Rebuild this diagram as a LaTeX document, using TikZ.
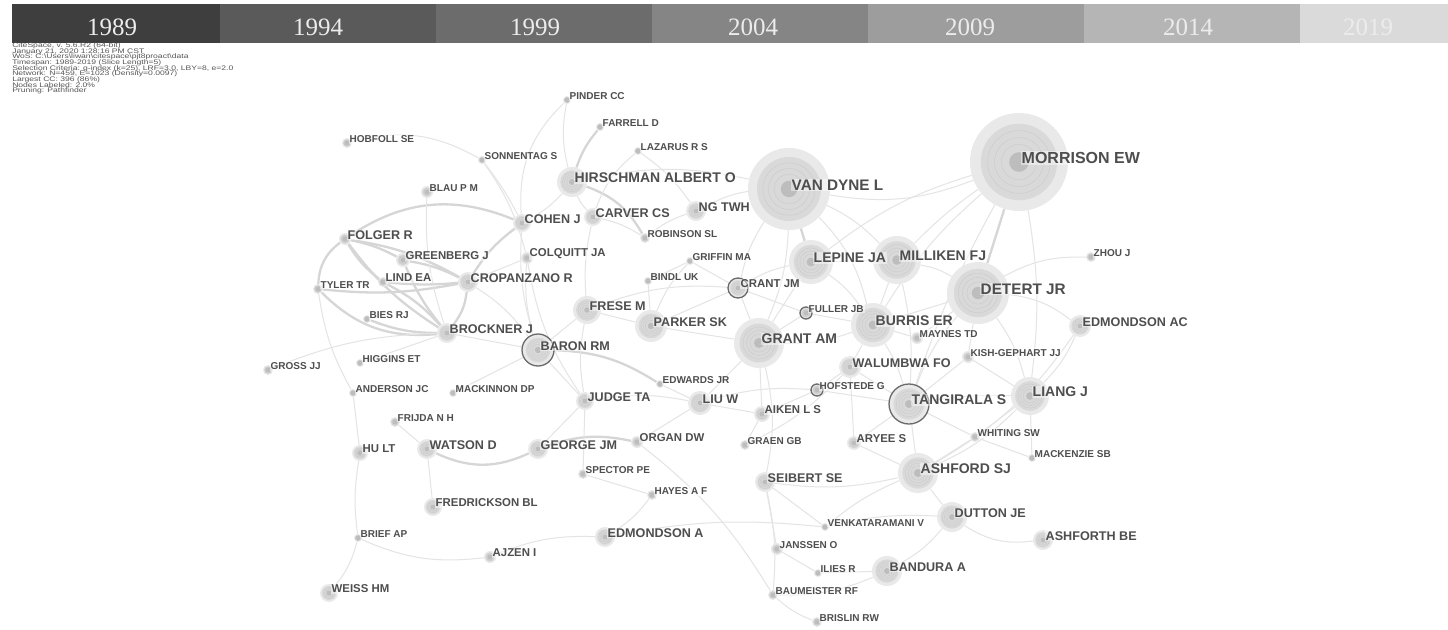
\documentclass[tikz,border=0pt]{standalone}
\usepackage{fontspec}
\newfontfamily\labfont{Liberation Sans}
\newfontfamily\yearfont{Liberation Serif}
\pgfdeclarelayer{background}
\pgfdeclarelayer{foreground}
\pgfsetlayers{background,main,foreground}

\definecolor{labc}{HTML}{4E4E4E}
\definecolor{infoc}{HTML}{555555}
\definecolor{ringc}{HTML}{6A6A6A}
\definecolor{yearc}{HTML}{ECECEC}
\definecolor{barA}{HTML}{3E3E3E}
\definecolor{barB}{HTML}{5A5A5A}
\definecolor{barC}{HTML}{6C6C6C}
\definecolor{barD}{HTML}{858585}
\definecolor{barE}{HTML}{9D9D9D}
\definecolor{barF}{HTML}{B5B5B5}
\definecolor{barG}{HTML}{DADADA}

\tikzset{
  authdisc/.style={circle, inner sep=0pt, fill=gray!17},
  authlabel/.style={anchor=west, inner sep=1pt, text=labc, fill=white,
    fill opacity=0.45, text opacity=1},
  szXL/.style={font=\labfont\bfseries\fontsize{16}{18}\selectfont},
  szXLb/.style={font=\labfont\bfseries\fontsize{15.3}{17}\selectfont},
  szL/.style={font=\labfont\bfseries\fontsize{14}{16}\selectfont},
  szM/.style={font=\labfont\bfseries\fontsize{12.6}{14}\selectfont},
  szSM/.style={font=\labfont\bfseries\fontsize{11.4}{13}\selectfont},
  szS/.style={font=\labfont\bfseries\fontsize{10}{12}\selectfont},
  lnk/.style={draw=gray!21, line width=1pt},
  lnkb/.style={draw=gray!32, line width=2.3pt},
  yearlbl/.style={text=yearc, font=\yearfont\fontsize{25}{25}\selectfont, inner sep=0pt},
  burstring/.style={draw=ringc, line width=1.3pt},
  infoline/.style={anchor=west, inner sep=0pt, text=infoc, xscale=1.3,
    font=\labfont\fontsize{6.6}{7}\selectfont},
}

% #1 name, #2 x, #3 y, #4 radius, #5 label size style, #6 label text
\newcommand\authornode[6]{%
  \node[authdisc, minimum size=2*#4] (#1) at (#2,#3) {};
  \fill[gray!30] (#1.center) circle[radius=0.78*#4];
  \foreach \k in {0.64,0.5,0.36}
    \draw[gray!42, line width=0.35pt] (#1.center) circle[radius=\k*#4];
  \fill[gray!52] (#1.center) circle[radius={max(0.2*#4,2.4)}];
  \begin{pgfonlayer}{foreground}
    \node[authlabel, #5] (#1-l) at (#2+1.5,#3-4) {#6};
  \end{pgfonlayer}
}
\newcommand\burstmark[2]{\draw[burstring] (#1.center) circle[radius=#2];}

\begin{document}
\begin{tikzpicture}[x=1pt, y=-1pt]
\useasboundingbox (0,0) rectangle (1448,629);
\begin{pgfonlayer}{background}
\fill[white] (0,0) rectangle (1448,629);
\end{pgfonlayer}

% time-slice colour bar
\fill[barA] (12,4) rectangle (220,43);
\fill[barB] (220,4) rectangle (436,43);
\fill[barC] (436,4) rectangle (652,43);
\fill[barD] (652,4) rectangle (868,43);
\fill[barE] (868,4) rectangle (1084,43);
\fill[barF] (1084,4) rectangle (1300,43);
\fill[barG] (1300,4) rectangle (1448,43);
\node[yearlbl] (y1989) at (112,27) {1989};
\node[yearlbl] (y1994) at (318,27) {1994};
\node[yearlbl] (y1999) at (535,27) {1999};
\node[yearlbl] (y2004) at (753,27) {2004};
\node[yearlbl] (y2009) at (970,27) {2009};
\node[yearlbl] (y2014) at (1188,27) {2014};
\node[yearlbl] (y2019) at (1368,27) {2019};

% run information
\node[infoline] (info1) at (12,46.0) {CiteSpace, v. 5.6.R2 (64-bit)};
\node[infoline] (info2) at (12,51.6) {January 21, 2020 1:28:16 PM CST};
\node[infoline] (info3) at (12,57.2) {WoS: C:\textbackslash Users\textbackslash liwan\textbackslash citespace\textbackslash pjt8proact\textbackslash data};
\node[infoline] (info4) at (12,62.8) {Timespan: 1989-2019 (Slice Length=5)};
\node[infoline] (info5) at (12,68.4) {Selection Criteria: g-index (k=25), LRF=3.0, LBY=8, e=2.0};
\node[infoline] (info6) at (12,74.0) {Network: N=459, E=1023 (Density=0.0097)};
\node[infoline] (info7) at (12,79.6) {Largest CC: 396 (86\%)};
\node[infoline] (info8) at (12,85.2) {Nodes Labeled: 2.0\%};
\node[infoline] (info9) at (12,90.8) {Pruning: Pathfinder};

% cited authors
\authornode{pinder}{567}{100}{4}{szS}{PINDER CC}
\authornode{farrell}{600}{127}{4}{szS}{FARRELL D}
\authornode{lazarus}{638}{151}{4}{szS}{LAZARUS R S}
\authornode{hobfoll}{347}{143}{5}{szS}{HOBFOLL SE}
\authornode{sonnentag}{482}{160}{4}{szS}{SONNENTAG S}
\authornode{hirschman}{572}{182}{15}{szL}{HIRSCHMAN ALBERT O}
\authornode{blau}{427}{192}{6}{szS}{BLAU P M}
\authornode{vandyne}{789}{189}{41}{szXLb}{VAN DYNE L}
\authornode{morrison}{1019}{162}{49}{szXL}{MORRISON EW}
\authornode{cohen}{522}{223}{9}{szM}{COHEN J}
\authornode{carver}{593}{217}{9}{szM}{CARVER CS}
\authornode{ngtwh}{696}{211}{10}{szM}{NG TWH}
\authornode{robinson}{645}{238}{5}{szS}{ROBINSON SL}
\authornode{folger}{345}{239}{6}{szM}{FOLGER R}
\authornode{greenberg}{403}{260}{7}{szSM}{GREENBERG J}
\authornode{colquitt}{527}{258}{6}{szSM}{COLQUITT JA}
\authornode{griffin}{690}{261}{4}{szS}{GRIFFIN MA}
\authornode{lepine}{811}{262}{22}{szL}{LEPINE JA}
\authornode{milliken}{897}{260}{24}{szL}{MILLIKEN FJ}
\authornode{zhou}{1091}{257}{5}{szS}{ZHOU J}
\authornode{tyler}{318}{289}{5}{szS}{TYLER TR}
\authornode{lind}{383}{282}{5}{szSM}{LIND EA}
\authornode{cropanzano}{468}{282}{10}{szM}{CROPANZANO R}
\authornode{bindl}{648}{281}{4}{szS}{BINDL UK}
\authornode{crant}{738}{288}{10}{szSM}{CRANT JM}
\authornode{detert}{978}{293}{31}{szXLb}{DETERT JR}
\authornode{frese}{587}{310}{14}{szM}{FRESE M}
\authornode{fuller}{806}{313}{6}{szS}{FULLER JB}
\authornode{parker}{651}{326}{16}{szM}{PARKER SK}
\authornode{burris}{873}{325}{22}{szL}{BURRIS ER}
\authornode{edmondsonac}{1080}{326}{11}{szM}{EDMONDSON AC}
\authornode{bies}{367}{319}{4}{szS}{BIES RJ}
\authornode{brockner}{447}{333}{10}{szM}{BROCKNER J}
\authornode{baron}{538}{350}{16}{szM}{BARON RM}
\authornode{grant}{759}{343}{25}{szL}{GRANT AM}
\authornode{maynes}{917}{338}{6}{szS}{MAYNES TD}
\authornode{kish}{968}{357}{6}{szS}{KISH-GEPHART JJ}
\authornode{walumbwa}{850}{367}{11}{szM}{WALUMBWA FO}
\authornode{gross}{268}{370}{5}{szS}{GROSS JJ}
\authornode{higgins}{360}{363}{4}{szS}{HIGGINS ET}
\authornode{anderson}{353}{393}{4}{szS}{ANDERSON JC}
\authornode{mackinnon}{453}{393}{4}{szS}{MACKINNON DP}
\authornode{edwards}{660}{384}{4}{szS}{EDWARDS JR}
\authornode{hofstede}{817}{390}{6}{szS}{HOFSTEDE G}
\authornode{judge}{585}{401}{9}{szM}{JUDGE TA}
\authornode{liuw}{700}{403}{12}{szM}{LIU W}
\authornode{aiken}{762}{414}{8}{szSM}{AIKEN L S}
\authornode{tangirala}{909}{404}{20}{szL}{TANGIRALA S}
\authornode{liang}{1030}{396}{19}{szL}{LIANG J}
\authornode{frijda}{395}{422}{5}{szS}{FRIJDA N H}
\authornode{hult}{360}{453}{8}{szSM}{HU LT}
\authornode{watson}{427}{449}{10}{szM}{WATSON D}
\authornode{george}{538}{449}{10}{szM}{GEORGE JM}
\authornode{organ}{637}{442}{6}{szSM}{ORGAN DW}
\authornode{graen}{745}{445}{5}{szS}{GRAEN GB}
\authornode{aryee}{854}{443}{7}{szSM}{ARYEE S}
\authornode{whiting}{975}{437}{5}{szS}{WHITING SW}
\authornode{mackenzie}{1032}{458}{4}{szS}{MACKENZIE SB}
\authornode{ashford}{918}{473}{20}{szL}{ASHFORD SJ}
\authornode{spector}{583}{474}{5}{szS}{SPECTOR PE}
\authornode{seibert}{765}{482}{10}{szM}{SEIBERT SE}
\authornode{hayes}{652}{495}{5}{szS}{HAYES A F}
\authornode{fredrickson}{433}{507}{9}{szSM}{FREDRICKSON BL}
\authornode{dutton}{952}{517}{15}{szM}{DUTTON JE}
\authornode{venkat}{825}{527}{4}{szS}{VENKATARAMANI V}
\authornode{brief}{358}{538}{4}{szS}{BRIEF AP}
\authornode{edmondsona}{605}{537}{10}{szM}{EDMONDSON A}
\authornode{ashforth}{1043}{540}{10}{szM}{ASHFORTH BE}
\authornode{janssen}{777}{549}{6}{szS}{JANSSEN O}
\authornode{ajzen}{490}{557}{6}{szSM}{AJZEN I}
\authornode{ilies}{818}{573}{4}{szS}{ILIES R}
\authornode{bandura}{887}{571}{15}{szM}{BANDURA A}
\authornode{weiss}{329}{593}{9}{szSM}{WEISS HM}
\authornode{baumeister}{773}{595}{5}{szS}{BAUMEISTER RF}
\authornode{brislin}{817}{622}{5}{szS}{BRISLIN RW}

% citation bursts
\burstmark{crant}{10}
\burstmark{baron}{16}
\burstmark{tangirala}{20}
\burstmark{fuller}{6}
\burstmark{hofstede}{6}

% co-citation links
\begin{pgfonlayer}{background}
% strong links
\draw[lnkb] (hirschman) to[bend left=10] (farrell);
\draw[lnkb] (hirschman) to[bend left=20] (robinson);
\draw[lnkb] (folger) to[bend left=8] (greenberg);
\draw[lnkb] (folger) to[bend right=10] (lind);
\draw[lnkb] (folger) to[bend right=25] (tyler);
\draw[lnkb] (folger) to[bend right=10] (brockner);
\draw[lnkb] (folger) to[bend left=10] (cropanzano);
\draw[lnkb] (greenberg) to[bend left=8] (cropanzano);
\draw[lnkb] (greenberg) to[bend right=8] (brockner);
\draw[lnkb] (tyler) to[bend right=8] (cropanzano);
\draw[lnkb] (tyler) to[bend right=25] (brockner);
\draw[lnkb] (lind) to[bend right=5] (cropanzano);
\draw[lnkb] (lind) to[bend left=10] (brockner);
\draw[lnkb] (bies) to[bend right=10] (brockner);
\draw[lnkb] (cropanzano) to[bend left=10] (cohen);
\draw[lnkb] (cropanzano) to[bend left=15] (brockner);
\draw[lnkb] (folger) to[bend left=28] (cohen);
\draw[lnkb] (baron) to[bend left=15] (edwards);
\draw[lnkb] (watson) to[bend right=25] (george);
\draw[lnkb] (george) to[bend left=15] (organ);
\draw[lnkb] (vandyne) to (lepine);
\draw[lnkb] (morrison) to (detert);
% ordinary links
\draw[lnk] (pinder) to[bend right=12] (hirschman);
\draw[lnk] (pinder) to[bend right=25] (cohen);
\draw[lnk] (lazarus) to[bend right=15] (carver);
\draw[lnk] (lazarus) to[bend left=10] (ngtwh);
\draw[lnk] (hobfoll) to[bend left=22] (sonnentag);
\draw[lnk] (sonnentag) to[bend left=10] (colquitt);
\draw[lnk] (sonnentag) to[bend left=5] (cohen);
\draw[lnk] (blau) to[bend right=10] (brockner);
\draw[lnk] (hirschman) to[bend left=10] (cohen);
\draw[lnk] (hirschman) to[bend left=12] (vandyne);
\draw[lnk] (hirschman) to[bend right=10] (carver);
\draw[lnk] (carver) to[bend left=10] (robinson);
\draw[lnk] (carver) to[bend right=8] (frese);
\draw[lnk] (cohen) to[bend right=10] (baron);
\draw[lnk] (ngtwh) to[bend right=10] (robinson);
\draw[lnk] (ngtwh) to[bend left=10] (vandyne);
\draw[lnk] (vandyne) to[bend right=15] (morrison);
\draw[lnk] (vandyne) to[bend left=10] (grant);
\draw[lnk] (vandyne) to[bend left=10] (milliken);
\draw[lnk] (vandyne) to[bend right=10] (crant);
\draw[lnk] (vandyne) to[bend left=15] (burris);
\draw[lnk] (morrison) to[bend right=10] (lepine);
\draw[lnk] (morrison) to[bend right=5] (milliken);
\draw[lnk] (morrison) to[bend right=8] (burris);
\draw[lnk] (morrison) to[bend left=8] (liang);
\draw[lnk] (morrison) to[bend right=5] (tangirala);
\draw[lnk] (milliken) to (lepine);
\draw[lnk] (milliken) to[bend left=10] (detert);
\draw[lnk] (milliken) to (burris);
\draw[lnk] (milliken) to[bend left=8] (tangirala);
\draw[lnk] (detert) to[bend left=15] (zhou);
\draw[lnk] (detert) to[bend left=15] (edmondsonac);
\draw[lnk] (detert) to (burris);
\draw[lnk] (detert) to[bend left=10] (liang);
\draw[lnk] (detert) to (kish);
\draw[lnk] (detert) to (maynes);
\draw[lnk] (detert) to[bend right=10] (tangirala);
\draw[lnk] (burris) to (maynes);
\draw[lnk] (burris) to (walumbwa);
\draw[lnk] (burris) to (fuller);
\draw[lnk] (burris) to[bend left=8] (tangirala);
\draw[lnk] (burris) to[bend left=10] (grant);
\draw[lnk] (lepine) to (grant);
\draw[lnk] (lepine) to[bend right=10] (crant);
\draw[lnk] (lepine) to[bend left=10] (burris);
\draw[lnk] (grant) to (parker);
\draw[lnk] (grant) to (crant);
\draw[lnk] (grant) to (liuw);
\draw[lnk] (grant) to[bend left=12] (seibert);
\draw[lnk] (grant) to (fuller);
\draw[lnk] (grant) to (aiken);
\draw[lnk] (crant) to (parker);
\draw[lnk] (crant) to (griffin);
\draw[lnk] (crant) to (fuller);
\draw[lnk] (crant) to[bend right=12] (frese);
\draw[lnk] (parker) to (frese);
\draw[lnk] (parker) to (bindl);
\draw[lnk] (parker) to[bend left=10] (griffin);
\draw[lnk] (griffin) to (bindl);
\draw[lnk] (frese) to (baron);
\draw[lnk] (frese) to[bend right=10] (judge);
\draw[lnk] (baron) to (brockner);
\draw[lnk] (baron) to (mackinnon);
\draw[lnk] (baron) to (judge);
\draw[lnk] (baron) to[bend left=10] (colquitt);
\draw[lnk] (cropanzano) to (colquitt);
\draw[lnk] (cropanzano) to[bend left=10] (baron);
\draw[lnk] (colquitt) to[bend right=12] (judge);
\draw[lnk] (judge) to (george);
\draw[lnk] (judge) to (spector);
\draw[lnk] (judge) to[bend left=10] (liuw);
\draw[lnk] (liuw) to (organ);
\draw[lnk] (liuw) to (aiken);
\draw[lnk] (liuw) to[bend left=10] (hofstede);
\draw[lnk] (liuw) to (edwards);
\draw[lnk] (aiken) to (hofstede);
\draw[lnk] (walumbwa) to (hofstede);
\draw[lnk] (tangirala) to[bend left=5] (liang);
\draw[lnk] (tangirala) to (ashford);
\draw[lnk] (tangirala) to (walumbwa);
\draw[lnk] (tangirala) to (aryee);
\draw[lnk] (tangirala) to (hofstede);
\draw[lnk] (tangirala) to (whiting);
\draw[lnk] (tangirala) to (kish);
\draw[lnk] (liang) to[bend right=10] (edmondsonac);
\draw[lnk] (liang) to (whiting);
\draw[lnk] (liang) to[bend left=10] (ashford);
\draw[lnk] (liang) to (kish);
\draw[lnk] (liang) to (mackenzie);
\draw[lnk] (whiting) to (mackenzie);
\draw[lnk] (whiting) to (ashford);
\draw[lnk] (edmondsonac) to[bend left=12] (ashford);
\draw[lnk] (ashford) to (dutton);
\draw[lnk] (ashford) to[bend right=8] (venkat);
\draw[lnk] (ashford) to (aryee);
\draw[lnk] (ashford) to[bend left=10] (seibert);
\draw[lnk] (dutton) to[bend right=20] (ashforth);
\draw[lnk] (dutton) to[bend left=10] (bandura);
\draw[lnk] (dutton) to[bend right=8] (venkat);
\draw[lnk] (bandura) to[bend left=12] (baumeister);
\draw[lnk] (bandura) to (ilies);
\draw[lnk] (baumeister) to[bend right=10] (brislin);
\draw[lnk] (seibert) to[bend left=8] (baumeister);
\draw[lnk] (seibert) to (janssen);
\draw[lnk] (seibert) to (venkat);
\draw[lnk] (janssen) to (ilies);
\draw[lnk] (venkat) to[bend right=8] (edmondsona);
\draw[lnk] (edmondsona) to[bend right=10] (hayes);
\draw[lnk] (edmondsona) to[bend right=12] (ajzen);
\draw[lnk] (ajzen) to[bend left=15] (brief);
\draw[lnk] (brief) to[bend left=12] (weiss);
\draw[lnk] (brief) to[bend left=8] (hult);
\draw[lnk] (hult) to (anderson);
\draw[lnk] (fredrickson) to (watson);
\draw[lnk] (watson) to (frijda);
\draw[lnk] (higgins) to (brockner);
\draw[lnk] (gross) to[bend left=10] (brockner);
\draw[lnk] (tyler) to[bend right=10] (anderson);
\draw[lnk] (graen) to (aiken);
\draw[lnk] (graen) to[bend right=10] (walumbwa);
\draw[lnk] (aryee) to (walumbwa);
\draw[lnk] (organ) to[bend left=10] (baumeister);
\draw[lnk] (hayes) to (spector);
\end{pgfonlayer}
\end{tikzpicture}
\end{document}
